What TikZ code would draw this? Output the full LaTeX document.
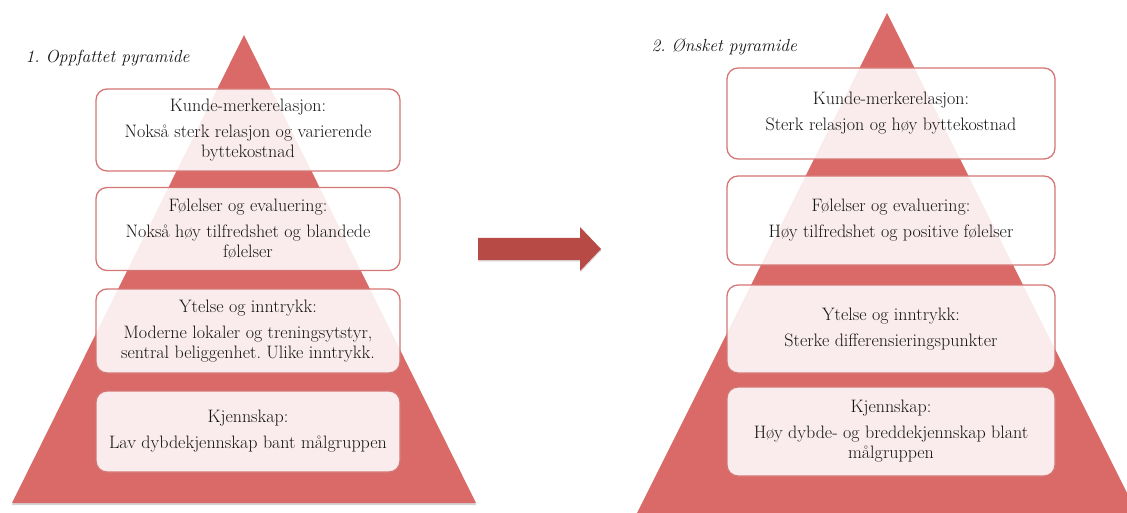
\documentclass[tikz,border=0pt]{standalone}
\usetikzlibrary{shadows}
\definecolor{pyrred}{RGB}{217,106,104}
\definecolor{boxred}{RGB}{212,118,116}
\definecolor{arrred}{RGB}{184,74,70}
\definecolor{txtgray}{RGB}{20,20,20}
\begin{document}
\frenchspacing
\begin{tikzpicture}[x=1pt,y=-1pt,line join=round,
    level/.style={draw=boxred,line width=1.3pt,rounded corners=11pt,
      fill=white,fill opacity=0.88,text opacity=1,text=txtgray,
      align=center,inner sep=4pt,
      font=\fontsize{18}{20}\selectfont},
    heading/.style={anchor=west,text=txtgray,
      font=\fontsize{17.5}{20}\selectfont\itshape}]
    \useasboundingbox (0,0) rectangle (1127,513);
    \clip (0,0) rectangle (1127,513);

    % oppfattet pyramide
    \coordinate (LA) at (244,35);
    \coordinate (LB) at (12,503);
    \coordinate (LC) at (476,503);
    \fill[pyrred,drop shadow={shadow xshift=0pt,shadow yshift=-2pt,opacity=0.35}]
      (LA)--(LC)--(LB)--cycle;

    % ønsket pyramide
    \coordinate (RA) at (887,13);
    \coordinate (RB) at (637,513);
    \coordinate (RC) at (1137,513);
    \fill[pyrred] (RA)--(RC)--(RB)--cycle;

    \node[heading] (titleL) at (22,58) {1. Oppfattet pyramide};
    \node[heading] (titleR) at (648,47) {2. Ønsket pyramide};

    % nivåer, venstre
    \node[level,minimum width=304,minimum height=82] (relL) at (248,130)
      {Kunde-merkerelasjon:\\[6pt] Nokså sterk relasjon og varierende\\ byttekostnad};
    \node[level,minimum width=304,minimum height=83] (folL) at (248,229)
      {Følelser og evaluering:\\[6pt] Nokså høy tilfredshet og blandede\\ følelser};
    \node[level,minimum width=304,minimum height=84] (ytL) at (248,331)
      {Ytelse og inntrykk:\\[6pt] Moderne lokaler og treningsytstyr,\\ sentral beliggenhet. Ulike inntrykk.};
    \node[level,minimum width=304,minimum height=81] (kjL) at (248,431.5)
      {Kjennskap:\\[6pt] Lav dybdekjennskap bant målgruppen};

    % nivåer, høyre
    \node[level,minimum width=328,minimum height=91] (relR) at (891,113.5)
      {Kunde-merkerelasjon:\\[6pt] Sterk relasjon og høy byttekostnad};
    \node[level,minimum width=328,minimum height=89] (folR) at (891,220.5)
      {Følelser og evaluering:\\[6pt] Høy tilfredshet og positive følelser};
    \node[level,minimum width=328,minimum height=88] (ytR) at (891,329)
      {Ytelse og inntrykk:\\[6pt] Sterke differensieringspunkter};
    \node[level,minimum width=328,minimum height=89] (kjR) at (891,431.5)
      {Kjennskap:\\[6pt] Høy dybde- og breddekjennskap blant\\ målgruppen};

    % pil
    \fill[arrred,drop shadow={shadow xshift=0.5pt,shadow yshift=-1.5pt,opacity=0.25}]
      (478,238)--(580,238)--(580,227)--(601,249)--(580,271)--(580,260)--(478,260)--cycle;
\end{tikzpicture}
\end{document}
